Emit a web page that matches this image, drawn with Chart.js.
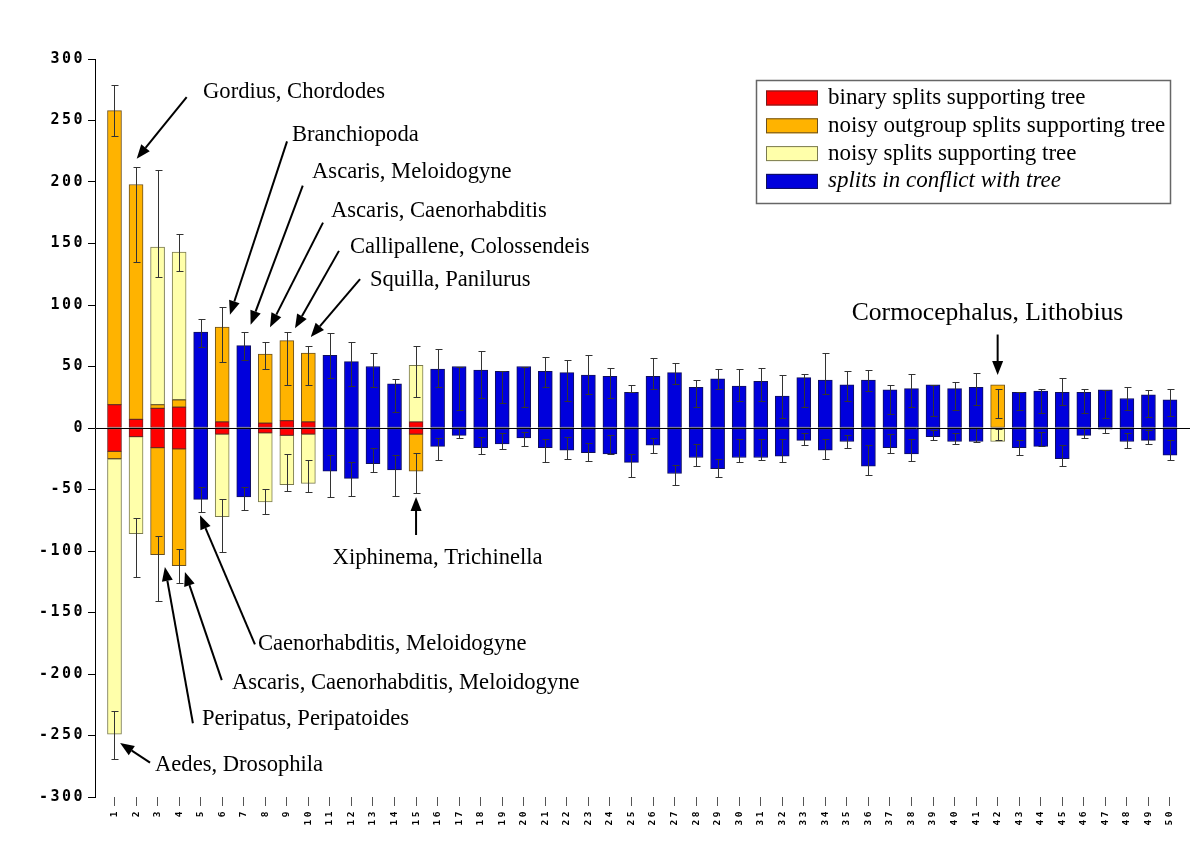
<!doctype html>
<html>
<head>
<meta charset="utf-8">
<script src="https://cdn.jsdelivr.net/npm/chart.js@4/dist/chart.umd.min.js"></script>
</head>
<body style="margin:0;background:#fff;overflow:hidden;">
<canvas id="myChart" width="1200" height="849"></canvas>
<script>
const n = null;

// split number, 1..50
const categories = [
  1, 2, 3, 4, 5, 6, 7, 8, 9, 10,
  11, 12, 13, 14, 15, 16, 17, 18, 19, 20,
  21, 22, 23, 24, 25, 26, 27, 28, 29, 30,
  31, 32, 33, 34, 35, 36, 37, 38, 39, 40,
  41, 42, 43, 44, 45, 46, 47, 48, 49, 50
];
const yTicks = [-300, -250, -200, -150, -100, -50, 0, 50, 100, 150, 200, 250, 300];

// segment heights above zero
const redUp = [
  19, 7, 16, 17, n, 5, n, 4, 6, 5,
  n, n, n, n, 5, n, n, n, n, n,
  n, n, n, n, n, n, n, n, n, n,
  n, n, n, n, n, n, n, n, n, n,
  n, n, n, n, n, n, n, n, n, n
];
const orangeUp = [
  239, 191, 3, 6, n, 77, n, 56, 65, 56,
  n, n, n, n, n, n, n, n, n, n,
  n, n, n, n, n, n, n, n, n, n,
  n, n, n, n, n, n, n, n, n, n,
  n, 35, n, n, n, n, n, n, n, n
];
const yellowUp = [
  n, n, 128, 120, n, n, n, n, n, n,
  n, n, n, n, 46, n, n, n, n, n,
  n, n, n, n, n, n, n, n, n, n,
  n, n, n, n, n, n, n, n, n, n,
  n, n, n, n, n, n, n, n, n, n
];
const blueUp = [
  n, n, n, n, 78, n, 67, n, n, n,
  59, 54, 50, 36, n, 48, 50, 47, 46, 50,
  46, 45, 43, 42, 29, 42, 45, 33, 40, 34,
  38, 26, 41, 39, 35, 39, 31, 32, 35, 32,
  33, n, 29, 30, 29, 29, 31, 24, 27, 23
];

// segment heights below zero
const redDown = [
  -19, -7, -16, -17, n, -5, n, -4, -6, -5,
  n, n, n, n, -5, n, n, n, n, n,
  n, n, n, n, n, n, n, n, n, n,
  n, n, n, n, n, n, n, n, n, n,
  n, n, n, n, n, n, n, n, n, n
];
const orangeDown = [
  -6, n, -87, -95, n, n, n, n, n, n,
  n, n, n, n, -30, n, n, n, n, n,
  n, n, n, n, n, n, n, n, n, n,
  n, n, n, n, n, n, n, n, n, n,
  n, n, n, n, n, n, n, n, n, n
];
const yellowDown = [
  -224, -79, n, n, n, -67, n, -56, -40, -40,
  n, n, n, n, n, n, n, n, n, n,
  n, n, n, n, n, n, n, n, n, n,
  n, n, n, n, n, n, n, n, n, n,
  n, -11, n, n, n, n, n, n, n, n
];
const blueDown = [
  n, n, n, n, -58, n, -56, n, n, n,
  -35, -41, -29, -34, n, -15, -6, -16, -13, -8,
  -16, -18, -20, -21, -28, -14, -37, -24, -33, -24,
  -24, -23, -10, -18, -11, -31, -16, -21, -7, -11,
  -11, n, -16, -15, -25, -6, -1, -11, -10, -22
];

// error whiskers (low, high) for the upper and the lower part
const errUpLo = [
  237, 135, 123, 128, 66, 54, 55, 48, 35, 35,
  41, 34, 33, 13, 25, 33, 15, 24, 20, 17,
  33, 22, 28, 24, 29, 32, 36, 17, 32, 22,
  22, 8, 17, 28, 22, 30, 11, 17, 10, 15,
  19, 8, 15, 12, 19, 12, 8, 15, 9, 10
];
const errUpHi = [
  279, 212, 210, 158, 89, 98, 78, 70, 78, 67,
  77, 70, 61, 40, 67, 64, 50, 63, 46, 50,
  58, 55, 59, 49, 35, 57, 53, 39, 48, 48,
  49, 43, 44, 61, 46, 47, 35, 44, 35, 37,
  45, 32, 29, 32, 41, 32, 31, 33, 31, 32
];
const errDownLo = [
  -269, -121, -141, -126, -68, -101, -67, -70, -51, -52,
  -56, -55, -36, -55, -53, -26, -8, -21, -17, -15,
  -28, -25, -27, -21, -40, -20, -46, -31, -40, -28,
  -26, -28, -14, -25, -16, -38, -20, -27, -10, -13,
  -11, -10, -22, -15, -31, -8, -4, -16, -13, -26
];
const errDownHi = [
  -230, -73, -88, -98, -48, -58, -48, -50, -21, -26,
  -22, -28, -16, -22, -20, -8, 0, -7, -4, -3,
  -9, -7, -12, -6, -21, -8, -30, -13, -25, -9,
  -9, -9, -4, -9, -6, -14, -5, -9, -2, -4,
  0, -1, -10, -3, -14, 0, 0, -4, -2, -10
];

const legendLabels = [
  'binary splits supporting tree',
  'noisy outgroup splits supporting tree',
  'noisy splits supporting tree',
  'splits in conflict with tree'
];

// labels with arrows: text anchor, arrow tail, arrow tip (split number, value)
const notes = [
  {text: 'Gordius, Chordodes', at: [5.11, 273], tail: [4.35, 269], tip: [2.03, 219]},
  {text: 'Branchiopoda', at: [9.24, 238], tail: [9.01, 233], tip: [6.36, 92]},
  {text: 'Ascaris, Meloidogyne', at: [10.17, 208], tail: [9.74, 197], tip: [7.32, 84]},
  {text: 'Ascaris, Caenorhabditis', at: [11.05, 176], tail: [10.68, 167], tip: [8.22, 82]},
  {text: 'Callipallene, Colossendeis', at: [11.93, 147], tail: [11.42, 144], tip: [9.38, 81]},
  {text: 'Squilla, Panilurus', at: [12.86, 120], tail: [12.4, 121], tip: [10.11, 74]},
  {text: 'Cormocephalus, Lithobius', at: [41.53, 93], tail: [42, 76], tip: [42, 43], center: true, big: true},
  {text: 'Xiphinema, Trichinella', at: [16.0, -106], tail: [15, -87], tip: [15, -56], center: true},
  {text: 'Caenorhabditis, Meloidogyne', at: [7.66, -176], tail: [7.52, -176], tip: [4.97, -71]},
  {text: 'Ascaris, Caenorhabditis, Meloidogyne', at: [6.45, -207], tail: [5.98, -205], tip: [4.27, -117]},
  {text: 'Peripatus, Peripatoides', at: [5.06, -237], tail: [4.64, -240], tip: [3.34, -113]},
  {text: 'Aedes, Drosophila', at: [2.88, -274], tail: [2.65, -272], tip: [1.26, -256]}
];

const RED = '#ff0000', ORANGE = '#ffb300', YELLOW = '#ffffaa', BLUE = '#0000dc';
const colors = [RED, ORANGE, YELLOW, BLUE];
const edges = ['#702020', '#6a5020', '#7a7a50', '#10105a'];

function ds(label, data, c) {
  return {
    label: label, data: data, backgroundColor: colors[c], borderColor: edges[c],
    borderWidth: 1, borderSkipped: false, barThickness: 14, stack: 's'
  };
}

const spacing = {
  id: 'spacing',
  beforeDraw(chart) {
    const ctx = chart.ctx;
    ctx.save();
    ctx.fillStyle = '#fff';
    ctx.fillRect(0, 0, chart.width, chart.height);
    ctx.restore();
    ctx.letterSpacing = '2.5px';
  },
  beforeDatasetsDraw(chart) {
    chart.ctx.letterSpacing = '0px';
  }
};

const errorBars = {
  id: 'errorBars',
  afterDatasetsDraw(chart) {
    const {ctx, scales: {x, y}} = chart;
    ctx.save();
    ctx.strokeStyle = '#333';
    ctx.lineWidth = 1;
    categories.forEach((c, i) => {
      const px = Math.round(x.getPixelForValue(c)) + 0.5;
      [[errUpLo[i], errUpHi[i]], [errDownLo[i], errDownHi[i]]].forEach(([lo, hi]) => {
        const y1 = Math.round(y.getPixelForValue(lo)) + 0.5;
        const y2 = Math.round(y.getPixelForValue(hi)) + 0.5;
        ctx.beginPath();
        ctx.moveTo(px, y1); ctx.lineTo(px, y2);
        ctx.moveTo(px - 3, y1); ctx.lineTo(px + 4, y1);
        ctx.moveTo(px - 3, y2); ctx.lineTo(px + 4, y2);
        ctx.stroke();
      });
    });
    ctx.restore();
  }
};

const annotate = {
  id: 'annotate',
  afterDraw(chart) {
    const {ctx, scales: {x, y}} = chart;
    ctx.save();
    ctx.letterSpacing = '0px';
    ctx.fillStyle = '#000';
    ctx.strokeStyle = '#000';
    notes.forEach(nt => {
      ctx.font = (nt.big ? '25.6px' : '22.6px') + ' "Liberation Serif", serif';
      ctx.textAlign = nt.center ? 'center' : 'left';
      ctx.textBaseline = 'middle';
      ctx.fillText(nt.text, x.getPixelForValue(nt.at[0]), y.getPixelForValue(nt.at[1]));
      const x1 = x.getPixelForValue(nt.tail[0]), y1 = y.getPixelForValue(nt.tail[1]);
      const x2 = x.getPixelForValue(nt.tip[0]), y2 = y.getPixelForValue(nt.tip[1]);
      const a = Math.atan2(y2 - y1, x2 - x1);
      const len = 14, half = 5.5;
      ctx.lineWidth = 2;
      ctx.beginPath();
      ctx.moveTo(x1, y1);
      ctx.lineTo(x2 - Math.cos(a) * len, y2 - Math.sin(a) * len);
      ctx.stroke();
      ctx.beginPath();
      ctx.moveTo(x2, y2);
      ctx.lineTo(x2 - Math.cos(a) * len - Math.sin(a) * half, y2 - Math.sin(a) * len + Math.cos(a) * half);
      ctx.lineTo(x2 - Math.cos(a) * len + Math.sin(a) * half, y2 - Math.sin(a) * len - Math.cos(a) * half);
      ctx.closePath();
      ctx.fill();
    });

    // legend box
    ctx.lineWidth = 1.5;
    ctx.strokeStyle = '#666';
    ctx.strokeRect(756.5, 80.5, 414, 123);
    legendLabels.forEach((t, i) => {
      const ry = 98 + i * 27.8;
      ctx.fillStyle = colors[i];
      ctx.fillRect(766, ry - 7.5, 52, 15);
      ctx.lineWidth = 1;
      ctx.strokeStyle = edges[i];
      ctx.strokeRect(766.5, ry - 7, 51, 14);
      ctx.fillStyle = '#000';
      ctx.font = (i === 3 ? 'italic ' : '') + '23px "Liberation Serif", serif';
      ctx.textAlign = 'left';
      ctx.textBaseline = 'middle';
      ctx.fillText(t, 828, ry);
    });
    ctx.restore();
  }
};

const ctx = document.getElementById('myChart').getContext('2d');
const myChart = new Chart(ctx, {
  type: 'bar',
  data: {
    labels: categories,
    datasets: [
      ds(legendLabels[0], redUp, 0),
      ds(legendLabels[0], redDown, 0),
      ds(legendLabels[1], orangeUp, 1),
      ds(legendLabels[1], orangeDown, 1),
      ds(legendLabels[2], yellowUp, 2),
      ds(legendLabels[2], yellowDown, 2),
      ds(legendLabels[3], blueUp, 3),
      ds(legendLabels[3], blueDown, 3)
    ]
  },
  options: {
    responsive: false,
    animation: false,
    layout: {padding: {top: 59, right: 10, bottom: 0, left: 0}},
    plugins: {legend: {display: false}, tooltip: {enabled: false}},
    scales: {
      x: {
        type: 'linear',
        stacked: true,
        offset: false,
        min: 0.095,
        max: 50.93,
        afterFit: s => { s.height = 52; },
        border: {display: false},
        grid: {offset: false, drawOnChartArea: false, tickLength: 9, tickColor: '#555', lineWidth: 1},
        ticks: {
          stepSize: 1, includeBounds: false, autoSkip: false,
          maxRotation: 90, minRotation: 90, padding: 3, color: '#000',
          font: {family: '"DejaVu Sans Mono", monospace', size: 9.5, weight: 'bold'},
          callback: v => String(v)
        }
      },
      y: {
        stacked: true,
        min: -300,
        max: 300,
        afterFit: s => { s.width = 95; },
        border: {display: true, color: '#000', width: 1, z: 1},
        grid: {
          z: 1,
          color: c => (c.tick && c.tick.value === 0) ? '#000' : 'rgba(0,0,0,0)',
          tickColor: '#000',
          tickLength: 7,
          lineWidth: 1
        },
        afterBuildTicks: s => { s.ticks = yTicks.map(v => ({value: v})); },
        ticks: {
          padding: 3, color: '#000',
          font: {family: '"DejaVu Sans Mono", monospace', size: 15, weight: 'bold'}
        }
      }
    }
  },
  plugins: [spacing, errorBars, annotate]
});
</script>
</body>
</html>
